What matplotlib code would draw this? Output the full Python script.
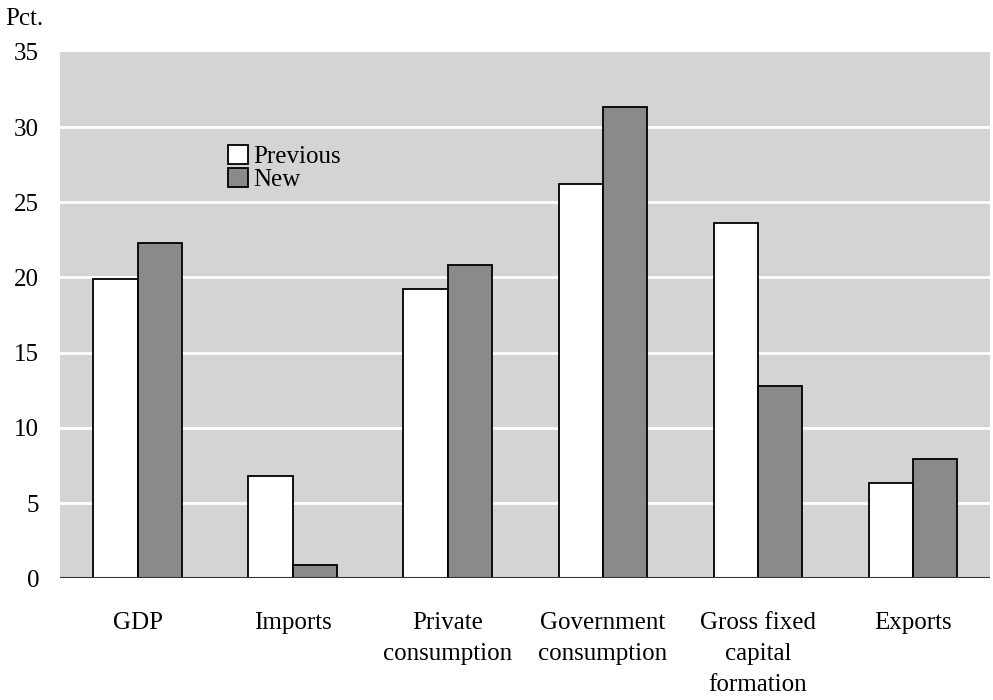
import matplotlib.pyplot as plt
import numpy as np

plt.rcParams['font.family'] = ['Liberation Serif', 'DejaVu Serif']

# Data
categories = ['GDP', 'Imports', 'Private\nconsumption', 'Government\nconsumption',
              'Gross fixed\ncapital\nformation', 'Exports']
previous = [19.9, 6.8, 19.2, 26.2, 23.6, 6.3]
new = [22.3, 0.9, 20.8, 31.3, 12.8, 7.9]
yticks = [0, 5, 10, 15, 20, 25, 30, 35]

fig = plt.figure(figsize=(9.93, 7.0), dpi=100)
ax = fig.add_axes([0.0604, 0.174, 0.937, 0.752])

x = np.arange(len(categories))
w = 0.285

ax.set_facecolor('#d4d4d4')
for yv in yticks[1:-1]:
    ax.axhline(yv, color='white', linewidth=2, zorder=1)

ax.bar(x - w / 2, previous, w, color='white', edgecolor='black', linewidth=1.3,
       label='Previous', zorder=3)
ax.bar(x + w / 2, new, w, color='#8a8a8a', edgecolor='black', linewidth=1.3,
       label='New', zorder=3)

ax.axhline(0, color='#333333', linewidth=1.5, zorder=4)

ax.set_xlim(-0.5, len(categories) - 0.5)
ax.set_ylim(0, 35)
ax.set_yticks(yticks)
ax.set_xticks(x)
ax.set_xticklabels(categories, fontsize=18, linespacing=1.55)
ax.tick_params(axis='y', length=0, pad=15, labelsize=18)
ax.tick_params(axis='x', length=0, pad=24)
for s in ax.spines.values():
    s.set_visible(False)

fig.text(0.005, 0.988, 'Pct.', fontsize=18, va='top', ha='left')

leg = ax.legend(loc='upper left', bbox_to_anchor=(0.181, 0.823), frameon=False,
                fontsize=18, handlelength=0.8, handleheight=0.8, handletextpad=0.2,
                labelspacing=0.0, borderpad=0, borderaxespad=0)

fig.savefig('out.png', dpi=100)
